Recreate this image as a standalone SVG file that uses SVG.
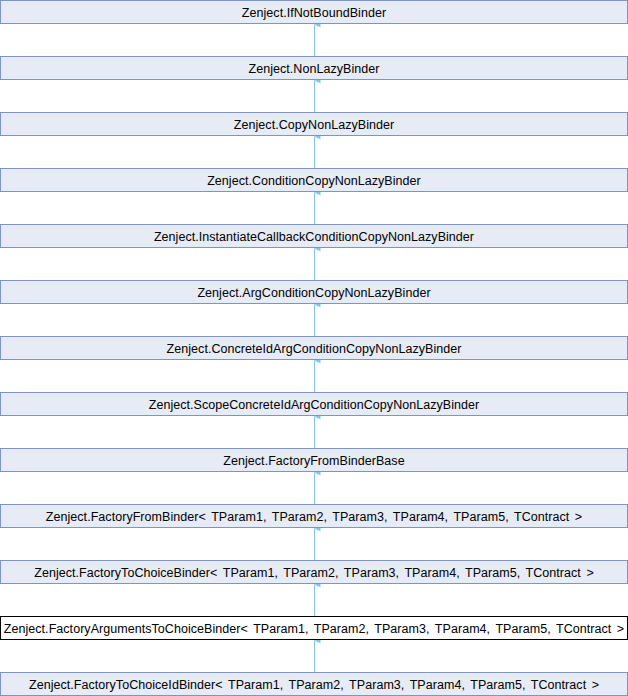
<svg xmlns="http://www.w3.org/2000/svg" width="628" height="696" viewBox="0 0 628 696">
  <style>
    .box { fill: #e6ebf5; stroke: #7b95cb; stroke-width: 1; }
    .cur { fill: #ffffff; stroke: #000000; stroke-width: 1; }
    .lbl { font-family: "Liberation Sans", Arial, sans-serif; font-size: 12.5px; letter-spacing: 0.05px; word-spacing: 2px; fill: #000000; text-anchor: middle; }
    .edge { stroke: #87c4e8; stroke-width: 1; fill: none; }
    .head { fill: #87c4e8; }
  </style>
  <defs>
    <marker id="inh" viewBox="0 0 8 8" refX="4" refY="0" markerWidth="8" markerHeight="8" markerUnits="userSpaceOnUse" orient="auto-start-reverse">
      <path d="M4,0 L7,6 L1,6 Z" class="head"/>
    </marker>
  </defs>

  <g id="connectors">
    <line class="edge" x1="314.5" y1="56" x2="314.5" y2="24.5" marker-end="url(#inh)"/>
    <line class="edge" x1="314.5" y1="112" x2="314.5" y2="80.5" marker-end="url(#inh)"/>
    <line class="edge" x1="314.5" y1="168" x2="314.5" y2="136.5" marker-end="url(#inh)"/>
    <line class="edge" x1="314.5" y1="224" x2="314.5" y2="192.5" marker-end="url(#inh)"/>
    <line class="edge" x1="314.5" y1="280" x2="314.5" y2="248.5" marker-end="url(#inh)"/>
    <line class="edge" x1="314.5" y1="336" x2="314.5" y2="304.5" marker-end="url(#inh)"/>
    <line class="edge" x1="314.5" y1="392" x2="314.5" y2="360.5" marker-end="url(#inh)"/>
    <line class="edge" x1="314.5" y1="448" x2="314.5" y2="416.5" marker-end="url(#inh)"/>
    <line class="edge" x1="314.5" y1="504" x2="314.5" y2="472.5" marker-end="url(#inh)"/>
    <line class="edge" x1="314.5" y1="560" x2="314.5" y2="528.5" marker-end="url(#inh)"/>
    <line class="edge" x1="314.5" y1="616" x2="314.5" y2="584.5" marker-end="url(#inh)"/>
    <line class="edge" x1="314.5" y1="672" x2="314.5" y2="640.5" marker-end="url(#inh)"/>
  </g>

  <g id="IfNotBoundBinder">
    <rect class="box" x="0.5" y="0.5" width="627" height="23"/>
    <text class="lbl" x="314" y="16.5">Zenject.IfNotBoundBinder</text>
  </g>
  <g id="NonLazyBinder">
    <rect class="box" x="0.5" y="56.5" width="627" height="23"/>
    <text class="lbl" x="314" y="72.5">Zenject.NonLazyBinder</text>
  </g>
  <g id="CopyNonLazyBinder">
    <rect class="box" x="0.5" y="112.5" width="627" height="23"/>
    <text class="lbl" x="314" y="128.5">Zenject.CopyNonLazyBinder</text>
  </g>
  <g id="ConditionCopyNonLazyBinder">
    <rect class="box" x="0.5" y="168.5" width="627" height="23"/>
    <text class="lbl" x="314" y="184.5">Zenject.ConditionCopyNonLazyBinder</text>
  </g>
  <g id="InstantiateCallbackConditionCopyNonLazyBinder">
    <rect class="box" x="0.5" y="224.5" width="627" height="23"/>
    <text class="lbl" x="314" y="240.5">Zenject.InstantiateCallbackConditionCopyNonLazyBinder</text>
  </g>
  <g id="ArgConditionCopyNonLazyBinder">
    <rect class="box" x="0.5" y="280.5" width="627" height="23"/>
    <text class="lbl" x="314" y="296.5">Zenject.ArgConditionCopyNonLazyBinder</text>
  </g>
  <g id="ConcreteIdArgConditionCopyNonLazyBinder">
    <rect class="box" x="0.5" y="336.5" width="627" height="23"/>
    <text class="lbl" x="314" y="352.5">Zenject.ConcreteIdArgConditionCopyNonLazyBinder</text>
  </g>
  <g id="ScopeConcreteIdArgConditionCopyNonLazyBinder">
    <rect class="box" x="0.5" y="392.5" width="627" height="23"/>
    <text class="lbl" x="314" y="408.5">Zenject.ScopeConcreteIdArgConditionCopyNonLazyBinder</text>
  </g>
  <g id="FactoryFromBinderBase">
    <rect class="box" x="0.5" y="448.5" width="627" height="23"/>
    <text class="lbl" x="314" y="464.5">Zenject.FactoryFromBinderBase</text>
  </g>
  <g id="FactoryFromBinder">
    <rect class="box" x="0.5" y="504.5" width="627" height="23"/>
    <text class="lbl" x="314" y="520.5">Zenject.FactoryFromBinder&lt; TParam1, TParam2, TParam3, TParam4, TParam5, TContract &gt;</text>
  </g>
  <g id="FactoryToChoiceBinder">
    <rect class="box" x="0.5" y="560.5" width="627" height="23"/>
    <text class="lbl" x="314" y="576.5">Zenject.FactoryToChoiceBinder&lt; TParam1, TParam2, TParam3, TParam4, TParam5, TContract &gt;</text>
  </g>
  <g id="FactoryArgumentsToChoiceBinder">
    <rect class="cur" x="0.5" y="616.5" width="627" height="23"/>
    <text class="lbl" x="314" y="632.5">Zenject.FactoryArgumentsToChoiceBinder&lt; TParam1, TParam2, TParam3, TParam4, TParam5, TContract &gt;</text>
  </g>
  <g id="FactoryToChoiceIdBinder">
    <rect class="box" x="0.5" y="672.5" width="627" height="23"/>
    <text class="lbl" x="314" y="688.5">Zenject.FactoryToChoiceIdBinder&lt; TParam1, TParam2, TParam3, TParam4, TParam5, TContract &gt;</text>
  </g>
</svg>
